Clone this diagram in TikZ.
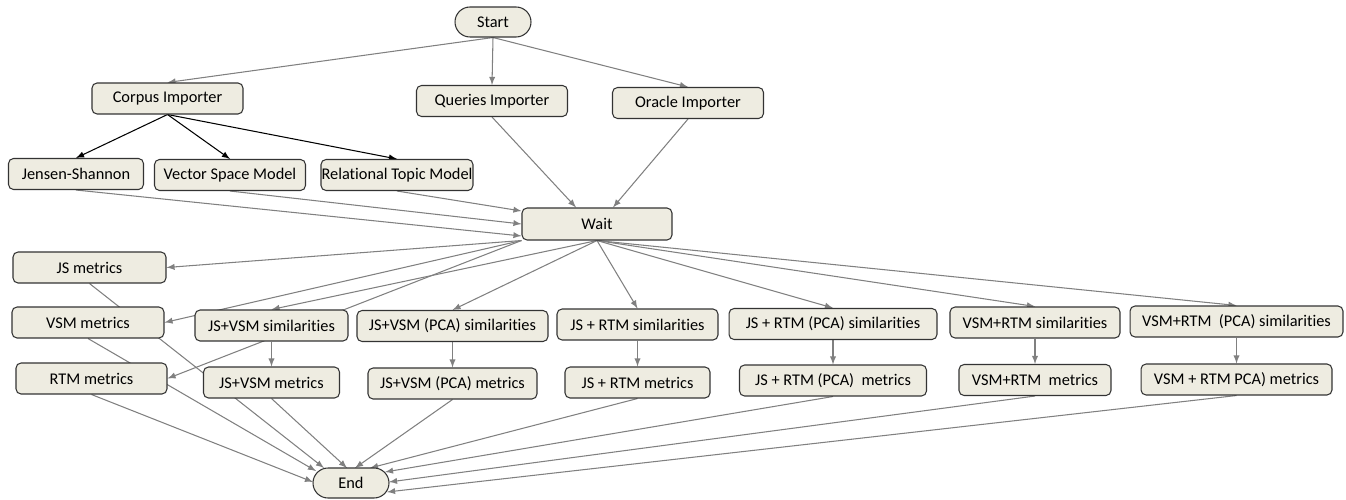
\documentclass[tikz,border=0pt]{standalone}
\usepackage{fontspec}
\setmainfont[Ligatures=CommonOff]{Carlito}
\usepackage{tikz}
\usetikzlibrary{backgrounds}
\definecolor{boxfill}{HTML}{EEECE1}
\definecolor{boxline}{HTML}{333333}
\definecolor{flowgray}{HTML}{808080}

\begin{document}
\begin{tikzpicture}[x=0.02cm,y=-0.02cm,
		box/.style={draw=boxline,fill=boxfill,line width=0.6pt,rounded corners=0.1cm,minimum height=0.62cm,inner sep=0pt,font=\fontsize{9.3}{11}\selectfont},
		term/.style={box,rounded corners=0.3cm,minimum width=1.52cm,minimum height=0.6cm},
		flow/.style={->,flowgray,line width=0.6pt},
		split/.style={->,black,line width=0.6pt}]
		\tikzset{> = latex}
		\useasboundingbox (0,0) rectangle (1346,500);
		\node[term] (start) at (493,22) {Start};
		\node[box,minimum width=3.02cm] (corpus) at (167.5,98.5) {Corpus Importer};
		\node[box,minimum width=3.02cm] (queries) at (492,101) {Queries Importer};
		\node[box,minimum width=3.02cm] (oracle) at (688,103) {Oracle Importer};
		\node[box,minimum width=2.7cm] (jensen) at (76,174) {Jensen-Shannon};
		\node[box,minimum width=3.02cm] (vsm) at (230,175) {Vector Space Model};
		\node[box,minimum width=3.04cm] (rtm) at (397,175) {Relational Topic Model};
		\node[box,minimum width=3cm,minimum height=0.64cm] (wait) at (597,224) {Wait};
		\node[box,minimum width=3.06cm] (jsmet) at (89.5,267.5) {JS metrics};
		\node[box,minimum width=3.04cm] (vsmmet) at (88,322.5) {VSM metrics};
		\node[box,minimum width=3.02cm] (rtmmet) at (91.5,378.5) {RTM metrics};
		\node[box,minimum width=3.06cm] (jsvsmsim) at (271.5,325.5) {JS+VSM similarities};
		\node[box,minimum width=2.72cm] (jsvsmmet) at (271.5,382.5) {JS+VSM metrics};
		\node[box,minimum width=3.82cm] (jsvsmpcasim) at (452.5,326) {JS+VSM (PCA) similarities};
		\node[box,minimum width=3.38cm] (jsvsmpcamet) at (452.5,383.5) {JS+VSM (PCA) metrics};
		\node[box,minimum width=3.22cm] (jsrtmsim) at (637.5,324.5) {JS + RTM similarities};
		\node[box,minimum width=2.9cm] (jsrtmmet) at (637.5,382.5) {JS + RTM metrics};
		\node[box,minimum width=4.16cm] (jsrtmpcasim) at (833,324) {JS + RTM (PCA) similarities};
		\node[box,minimum width=3.74cm] (jsrtmpcamet) at (833,380.5) {JS + RTM (PCA)~ metrics};
		\node[box,minimum width=3.4cm] (vsmrtmsim) at (1035,322.5) {VSM+RTM similarities};
		\node[box,minimum width=3.04cm] (vsmrtmmet) at (1035,380) {VSM+RTM~ metrics};
		\node[box,minimum width=4.26cm] (vsmrtmpcasim) at (1236.5,321.5) {VSM+RTM~ (PCA) similarities};
		\node[box,minimum width=3.82cm] (vsmrtmpcamet) at (1236.5,379.5) {VSM + RTM PCA) metrics};
		\node[term] (end) at (351,483) {End};
		\begin{pgfonlayer}{background}
			\draw[flow] (start.south) -- (corpus.north);
			\draw[flow] (start.south) -- (queries.north);
			\draw[flow] (start.south) -- (oracle.north);
			\draw[split] (corpus.south) -- (jensen.north);
			\draw[split] (corpus.south) -- (vsm.north);
			\draw[split] (corpus.south) -- (rtm.north);
			\draw[flow] (queries.south) -- ([xshift=-0.42cm]wait.north);
			\draw[flow] (oracle.south) -- ([xshift=0.32cm]wait.north);
			\draw[flow] (jensen.south) -- ([yshift=-0.24cm]wait.west);
			\draw[flow] (vsm.south) -- (wait.west);
			\draw[flow] (rtm.south) -- ([yshift=0.26cm]wait.west);
			\foreach \m in {jsmet,vsmmet,rtmmet}
				\draw[flow] (wait.south west) -- (\m.east);
			\foreach \s in {jsvsmsim,jsvsmpcasim,jsrtmsim,jsrtmpcasim,vsmrtmsim,vsmrtmpcasim}
				\draw[flow] (wait.south) -- (\s.north);
			\foreach \s/\m in {jsvsmsim/jsvsmmet,jsvsmpcasim/jsvsmpcamet,jsrtmsim/jsrtmmet,jsrtmpcasim/jsrtmpcamet,vsmrtmsim/vsmrtmmet,vsmrtmpcasim/vsmrtmpcamet}
				\draw[flow] (\s.south) -- (\m.north);
			\foreach \m/\dx/\dy in {rtmmet/-38/-1,vsmmet/-35/-12,jsmet/-27/-15,jsvsmmet/-4/-15,jsvsmpcamet/4/-15,jsrtmmet/19/-15,jsrtmpcamet/34/-11,vsmrtmmet/38/-1,vsmrtmpcamet/36/9}
				\draw[flow] (\m.south) -- ([shift={(\dx,\dy)}]end.center);
		\end{pgfonlayer}
	\end{tikzpicture}
\end{document}
